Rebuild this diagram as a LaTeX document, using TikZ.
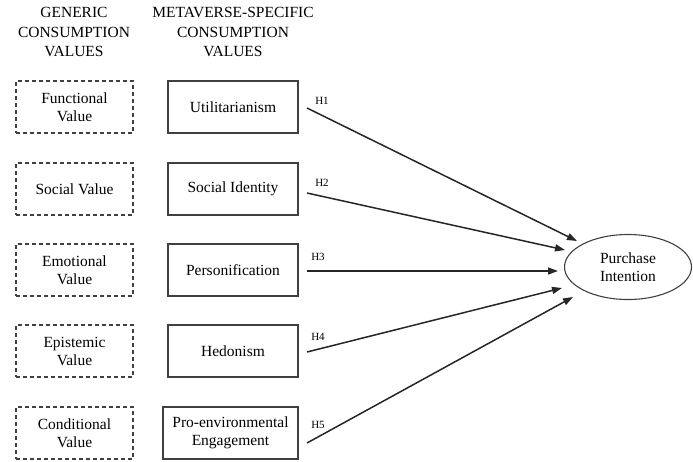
\documentclass[tikz,border=0pt]{standalone}
\usepackage{fontspec}
\setmainfont{Liberation Serif}
\usetikzlibrary{arrows.meta,shapes.geometric}
\begin{document}
\begin{tikzpicture}[x=1pt,y=-1pt,
  hdr/.style={align=center,font=\fontsize{15.5}{19.5}\selectfont,inner sep=0pt},
  genbox/.style={draw=black!75,line width=1.1pt,dash pattern=on 4pt off 3pt,minimum width=117pt,minimum height=52pt,align=center,font=\fontsize{15.5}{18}\selectfont,inner sep=0pt},
  specbox/.style={draw=black!75,line width=1.1pt,minimum width=130pt,minimum height=52pt,align=center,font=\fontsize{15.5}{18}\selectfont,inner sep=0pt},
  hlab/.style={font=\fontsize{11}{12}\selectfont,inner sep=0pt},
  arr/.style={line width=1.5pt,black!85,-{Triangle[length=10pt,width=7pt]}}]
\useasboundingbox (0,0) rectangle (693,461);
\node[hdr] (h1) at (74,32) {GENERIC\\CONSUMPTION\\VALUES};
\node[hdr] (h2) at (233,32) {METAVERSE-SPECIFIC\\CONSUMPTION\\VALUES};
\node[genbox] (g1) at (74.5,107) {Functional\\Value};
\node[genbox] (g2) at (74.5,189) {Social Value};
\node[genbox] (g3) at (74.5,270) {Emotional\\Value};
\node[genbox] (g4) at (74.5,351) {Epistemic\\Value};
\node[genbox] (g5) at (74.5,433) {Conditional\\Value};
\node[specbox] (s1) at (233,107) {Utilitarianism};
\node[specbox] (s2) at (233,189) {Social Identity};
\node[specbox] (s3) at (233,270) {Personification};
\node[specbox] (s4) at (233,351) {Hedonism};
\node[specbox,minimum width=135pt] (s5) at (230.5,433) {Pro-environmental\\Engagement};
\node[draw=black!75,line width=1.1pt,ellipse,minimum width=127pt,minimum height=65pt,align=center,font=\fontsize{15.5}{18}\selectfont,inner sep=0pt] (pi) at (628,267) {Purchase\\Intention};
\coordinate (a1) at (307,108); \coordinate (b1) at (577,241);
\coordinate (a2) at (307,193); \coordinate (b2) at (565,250);
\coordinate (a3) at (307,271); \coordinate (b3) at (558,271);
\coordinate (a4) at (307,352); \coordinate (b4) at (562,288);
\coordinate (a5) at (307,443); \coordinate (b5) at (573,297);
\draw[arr] (a1) -- (b1);
\draw[arr] (a2) -- (b2);
\draw[arr] (a3) -- (b3);
\draw[arr] (a4) -- (b4);
\draw[arr] (a5) -- (b5);
\node[hlab] (l1) at (322,101) {H1};
\node[hlab] (l2) at (322,183) {H2};
\node[hlab] (l3) at (318,257) {H3};
\node[hlab] (l4) at (318,337) {H4};
\node[hlab] (l5) at (318,425) {H5};
\end{tikzpicture}
\end{document}
